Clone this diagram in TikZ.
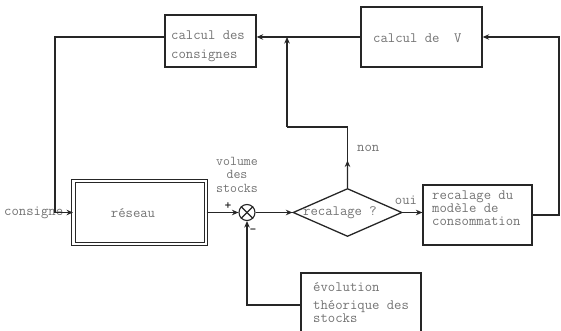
\documentclass[tikz,border=0pt]{standalone}
\usetikzlibrary{arrows.meta,shapes.geometric,calc}
\begin{document}
\begin{tikzpicture}[x=1pt,y=-1pt,
  box/.style={draw=black!85, line width=1.3pt, rectangle, inner sep=0pt},
  lbl/.style={font=\ttfamily\fontsize{14.3}{13}\selectfont, text=black!55, inner sep=0pt},
  wire/.style={draw=black!85, line width=1.1pt},
  arr/.style={wire, -{Stealth[length=6.5pt,width=5.5pt]}}]
\useasboundingbox (0,0) rectangle (561,331);
% boxes
\node[box, minimum width=91pt, minimum height=52pt] (cdc) at (210.5,41) {};
\node[box, minimum width=121pt, minimum height=60pt] (cdv) at (421.5,37) {};
\node[box, draw=black!85, line width=1pt, double, double distance=2.2pt, minimum width=132.5pt, minimum height=63.5pt] (res) at (139.75,212.5) {};
\node[draw=black!85, line width=1.1pt, circle, minimum size=16pt, inner sep=0pt] (sum) at (247,212.5) {};
\node[draw=black!85, line width=1.3pt, diamond, minimum width=109pt, minimum height=48pt, inner sep=0pt] (dia) at (347.5,212.5) {};
\node[box, minimum width=109pt, minimum height=60pt] (rec) at (477.5,215) {};
\node[box, minimum width=120pt, minimum height=64pt] (evo) at (361,305) {};
% texts
\node[lbl, font=\ttfamily\fontsize{14.3}{19}\selectfont, align=left, anchor=west] (cdct) at (171,46.5) {calcul des\\consignes};
\node[lbl, anchor=west] (cdvt) at (373,38) {calcul de\ \ V};
\node[lbl] (rest) at (133,213) {réseau};
\node[lbl, align=center, font=\ttfamily\fontsize{13.5}{13.5}\selectfont] (vol) at (237,174.5) {volume\\des\\stocks};
\node[lbl] (diat) at (340,212.5) {recalage ?};
\node[lbl, align=left, anchor=west] (rect) at (432,208) {recalage du\\modèle de\\consommation};
\node[lbl, align=left, anchor=west] (evot) at (313,302.5) {évolution\\[5pt]théorique des\\stocks};
\node[lbl, anchor=west] (cons) at (4,212.5) {consigne};
\node[lbl, anchor=west] (non) at (357,148) {non};
\node[lbl] (oui) at (406,200) {oui};
\node[lbl, text=black!85, font=\ttfamily\bfseries\fontsize{13}{13}\selectfont] (plus) at (228,206) {+};
\node[lbl, text=black!85, font=\ttfamily\bfseries\fontsize{13}{13}\selectfont] (minus) at (253,231) {-};
% cross in summing junction
\draw[wire] (sum.north west) -- (sum.south east);
\draw[wire] (sum.north east) -- (sum.south west);
% coordinates
\coordinate (cA) at (55,37);
\coordinate (cR) at (559,37);
\coordinate (cN1) at (347.5,127);
\coordinate (cN2) at (287,127);
% connectors
\draw[arr] (cdv.west) -- (cdv.west -| cdc.east);
\draw[arr] (cdv.west -| cdc.west) -- (cA) -- (cA |- res.west) -- (res.west);
\draw[arr] (res.east) -- (sum.west);
\draw[arr] (sum.east) -- (dia.west);
\draw[arr] (dia.east) -- (rec.west |- dia.east);
\draw[arr] (rec.east) -- (cR |- rec.east) -- (cR) -- (cdv.east);
\draw[wire] (dia.north) -- (cN1) -- (cN2);
\draw[arr] (dia.north) -- ($(dia.north)!0.45!(cN1)$);
\draw[arr] (cN2) -- (cN2 |- cdv.west);
\draw[arr] (evo.west) -| (sum.south);
\end{tikzpicture}
\end{document}
